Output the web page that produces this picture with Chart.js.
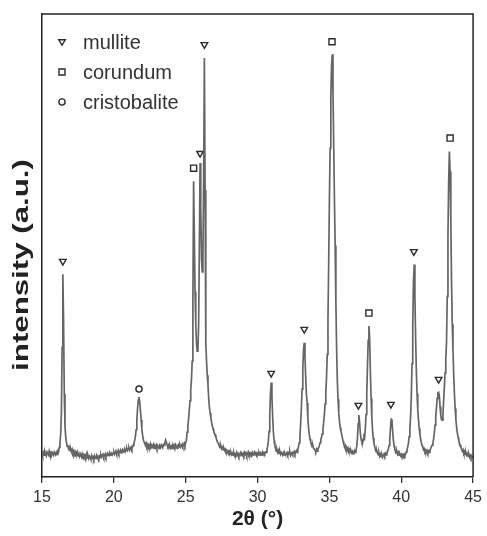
<!DOCTYPE html>
<html>
<head>
<meta charset="utf-8">
<script src="https://cdn.jsdelivr.net/npm/chart.js@4.4.1/dist/chart.umd.min.js"></script>
<style>
  html, body { margin: 0; padding: 0; background: #fff; }
  #wrap { width: 487px; height: 536px; }
</style>
</head>
<body>
<div id="wrap"><canvas id="xrd"></canvas></div>
<script>
// XRD scan, 15.00 - 45.00 deg 2theta, step 0.05 deg
const scanStart = 15;
const scanStep = 0.05;

// intensity (a.u.), one row per degree (x.00 ... x.95)
const intensity = [
  5.6, 4.9, 5.3, 4.7, 5.5, 5.0, 4.6, 5.4, 5.1, 4.8, 5.6, 4.9, 5.2, 4.6, 5.3, 5.0, 4.7, 5.4, 5.1, 4.8, // 15
  5.3, 4.9, 5.6, 5.4, 6.4, 7.4, 9.2, 14, 28, 43.8, 34, 18, 11, 8.6, 7.6, 6.6, 6.9, 6.1, 6.4, 5.7,    // 16
  6.0, 5.4, 5.9, 5.2, 5.6, 4.9, 5.5, 5.0, 5.3, 4.6, 5.2, 4.8, 4.4, 5.1, 4.7, 4.3, 5.0, 4.5, 4.8, 4.2, // 17
  4.7, 4.3, 4.9, 4.1, 4.6, 4.0, 4.5, 4.2, 3.8, 4.6, 4.1, 4.4, 3.9, 4.5, 4.0, 4.3, 4.7, 4.1, 4.4, 4.0, // 18
  4.5, 4.2, 4.8, 4.3, 4.6, 4.9, 4.3, 4.7, 5.0, 4.4, 4.8, 5.1, 4.6, 4.9, 5.3, 4.7, 5.0, 5.2, 4.8, 5.1, // 19
  5.4, 4.9, 5.2, 5.6, 5.0, 5.3, 5.7, 5.1, 5.4, 5.8, 5.2, 5.6, 5.9, 5.4, 5.7, 6.1, 5.5, 5.9, 6.2, 5.7, // 20
  6.0, 6.3, 5.8, 6.2, 6.5, 6.0, 6.4, 6.9, 7.3, 7.9, 8.8, 10.2, 12.3, 14.8, 16.6, 17.3, 16.3, 14.4, 12.3, 10.4, // 21
  9.0, 8.1, 7.6, 7.2, 6.9, 7.3, 6.6, 7.0, 6.4, 6.9, 6.5, 7.1, 6.3, 6.8, 6.6, 7.0, 6.2, 6.7, 6.4, 6.9, // 22
  6.3, 6.8, 6.5, 6.1, 6.7, 6.4, 6.9, 6.6, 6.3, 7.0, 6.8, 7.4, 8.0, 7.6, 7.0, 6.6, 6.9, 6.3, 6.7, 6.2, // 23
  6.6, 6.2, 6.8, 6.4, 6.9, 6.5, 7.0, 6.6, 6.2, 6.8, 7.0, 6.5, 6.9, 6.4, 6.7, 7.1, 6.6, 6.9, 7.3, 6.8, // 24
  7.4, 7.9, 9.7, 11.0, 12.5, 14.5, 16.5, 18.8, 21.0, 25.0, 38, 63.9, 52, 40, 33, 29, 27.2, 27.4, 33, 50, // 25
  67.8, 58, 47, 44.3, 48, 65, 90.5, 62, 29, 25, 22, 20, 17, 15, 13.8, 12.8, 11.8, 11.0, 10.4, 9.9,  // 26
  9.5, 9.1, 8.6, 8.1, 7.7, 7.4, 7.0, 6.8, 6.4, 6.7, 6.1, 6.4, 5.9, 6.2, 5.7, 6.0, 5.5, 5.8, 5.3, 5.6, // 27
  5.2, 5.5, 4.9, 5.3, 4.8, 5.1, 4.7, 5.2, 4.6, 5.0, 4.8, 5.3, 4.7, 5.0, 4.5, 4.9, 5.2, 4.6, 5.0, 4.7, // 28
  5.1, 4.7, 5.3, 4.9, 5.2, 4.6, 5.0, 5.4, 4.8, 5.1, 4.7, 5.2, 4.9, 5.3, 4.8, 5.0, 5.4, 4.9, 5.2, 4.8, // 29
  5.1, 4.8, 5.3, 4.9, 5.2, 4.7, 5.0, 5.4, 4.9, 5.2, 5.0, 5.4, 5.3, 5.8, 6.6, 7.8, 9.8, 13.5, 18.0, 20.4, // 30
  17.5, 13, 9.8, 7.9, 6.8, 6.2, 5.6, 5.9, 5.3, 5.7, 5.1, 5.5, 4.9, 5.3, 5.0, 4.7, 5.2, 4.8, 5.1, 4.7, // 31
  5.0, 5.3, 4.8, 5.2, 4.9, 5.4, 4.7, 5.1, 5.3, 4.9, 5.2, 5.5, 5.0, 5.4, 5.7, 5.3, 5.9, 6.6, 7.4, 8.8, // 32
  11.5, 15.0, 19, 23.5, 27.5, 29.0, 26, 21.5, 18, 16, 12.8, 10.6, 9.2, 8.2, 7.6, 7.1, 6.6, 6.8, 6.2, 6.0, // 33
  5.8, 5.5, 6.0, 5.6, 6.1, 6.3, 6.8, 7.4, 8.0, 8.6, 9.3, 10.4, 11.8, 13.5, 15.8, 18.2, 21.5, 26.5, 34, 46, // 34
  60, 71, 82, 89, 91.3, 83, 72, 60, 50, 38, 28, 21, 16.8, 13.8, 12.0, 10.7, 9.9, 9.3, 8.5, 7.7,      // 35
  7.1, 6.5, 6.8, 6.1, 6.4, 5.8, 6.2, 5.6, 5.9, 5.3, 5.7, 5.2, 5.5, 5.0, 5.4, 5.7, 5.3, 5.8, 6.6, 8.3, // 36
  11.5, 13.4, 11.8, 9.6, 8.3, 7.6, 7.3, 8.0, 8.8, 8.5, 10.5, 13.5, 18, 24, 29.5, 32.6, 30, 23, 17, 13, // 37
  10.2, 8.4, 7.3, 6.6, 6.0, 5.5, 5.7, 5.1, 4.8, 5.2, 4.5, 4.9, 4.4, 4.8, 4.3, 4.7, 5.0, 4.6, 5.1, 4.8, // 38
  5.2, 5.6, 6.0, 6.8, 8.2, 10.5, 12.5, 12.4, 10.0, 8.0, 6.7, 6.1, 5.6, 5.2, 5.5, 4.9, 5.3, 4.7, 5.0, 4.6, // 39
  4.9, 4.5, 4.8, 4.4, 4.9, 4.6, 5.0, 5.4, 5.9, 6.5, 7.3, 8.7, 10.5, 13.0, 17.5, 24.5, 33, 42, 45.9, 39, // 40
  30, 23, 18, 14.5, 12.3, 10.5, 9.2, 8.1, 7.4, 6.8, 6.4, 5.9, 6.1, 5.5, 5.8, 5.3, 5.7, 5.2, 5.6, 5.3, // 41
  5.8, 6.2, 6.5, 6.9, 7.3, 8.2, 9.5, 11.2, 13.0, 15.0, 17.0, 18.2, 18.3, 17.5, 15.2, 13.3, 12.4, 12.3, 13.5, 16.5, // 42
  19.5, 22.5, 25.5, 29, 39, 52, 64, 70.3, 66, 55, 42, 33, 27.5, 22, 18, 14.8, 12.5, 10.8, 9.6, 8.6, // 43
  7.9, 7.3, 6.9, 6.5, 6.0, 5.6, 5.9, 5.2, 5.5, 4.9, 5.3, 4.7, 5.0, 4.5, 4.9, 4.3, 4.7, 4.2, 4.6, 4.3, // 44
  4.5                                                                                              // 45
];

// phase markers: peak position and label height
const mulliteAngles = [16.45, 26.0, 26.3, 30.95, 33.25, 37.02, 39.28, 40.88, 42.6];
const mulliteMarks = [46.6, 69.9, 93.4, 22.4, 31.9, 15.5, 15.7, 48.7, 21.1];
const corundumAngles = [25.55, 35.18, 37.75, 43.4];
const corundumMarks = [66.7, 94.0, 35.4, 73.2];
const cristobaliteAngles = [21.75];
const cristobaliteMarks = [19.0];

const legendLabels = ['mullite', 'corundum', 'cristobalite'];
const xTicks = [15, 20, 25, 30, 35, 40, 45];

const scan = intensity.map((v, i) => ({ x: +(scanStart + i * scanStep).toFixed(2), y: v }));
const pairs = (xs, ys) => xs.map((x, i) => ({ x: x, y: ys[i] }));

const ink = '#2b2b2b';
const fontFamily = '"Liberation Sans", Arial, Helvetica, sans-serif';

function drawSymbol(ctx, kind, x, y) {
    ctx.beginPath();
    if (kind === 0) {
        ctx.moveTo(x - 3.3, y - 2.2);
        ctx.lineTo(x + 3.3, y - 2.2);
        ctx.lineTo(x, y + 3.2);
        ctx.closePath();
    } else if (kind === 1) {
        ctx.rect(x - 3, y - 3, 6, 6);
    } else {
        ctx.arc(x, y, 3.1, 0, Math.PI * 2);
    }
    ctx.stroke();
}

const framePlugin = {
    id: 'frame',
    afterDraw(chart) {
        const { ctx, chartArea } = chart;
        ctx.save();
        // top and right border
        ctx.strokeStyle = '#222';
        ctx.lineWidth = 1.5;
        ctx.beginPath();
        ctx.moveTo(chartArea.left, chartArea.top);
        ctx.lineTo(chartArea.right, chartArea.top);
        ctx.lineTo(chartArea.right, chartArea.bottom);
        ctx.stroke();

        // legend inside the plot
        ctx.strokeStyle = ink;
        ctx.lineWidth = 1.4;
        ctx.fillStyle = '#333';
        ctx.font = '20px ' + fontFamily;
        ctx.textBaseline = 'middle';
        legendLabels.forEach((label, i) => {
            const y = chartArea.top + 28 + i * 30;
            drawSymbol(ctx, i, chartArea.left + 20, y);
            ctx.fillText(label, chartArea.left + 41, y + 1);
        });

        // y axis title
        ctx.translate(27.5, 265);
        ctx.rotate(-Math.PI / 2);
        ctx.scale(1.42, 1);
        ctx.font = 'bold 22px ' + fontFamily;
        ctx.textAlign = 'center';
        ctx.textBaseline = 'alphabetic';
        ctx.fillStyle = '#222';
        ctx.fillText('intensity (a.u.)', 0, 0);
        ctx.restore();
    }
};

new Chart(document.getElementById('xrd'), {
    type: 'line',
    data: {
        datasets: [
            {
                label: 'scan',
                data: scan,
                borderColor: '#656565',
                borderWidth: 1.7,
                pointRadius: 0,
                tension: 0
            },
            {
                type: 'scatter',
                label: legendLabels[0],
                data: pairs(mulliteAngles, mulliteMarks),
                pointStyle: 'triangle',
                rotation: 180,
                pointRadius: 3.8,
                borderColor: ink,
                borderWidth: 1.4,
                backgroundColor: 'rgba(0,0,0,0)'
            },
            {
                type: 'scatter',
                label: legendLabels[1],
                data: pairs(corundumAngles, corundumMarks),
                pointStyle: 'rect',
                pointRadius: 4.3,
                borderColor: ink,
                borderWidth: 1.4,
                backgroundColor: 'rgba(0,0,0,0)'
            },
            {
                type: 'scatter',
                label: legendLabels[2],
                data: pairs(cristobaliteAngles, cristobaliteMarks),
                pointStyle: 'circle',
                pointRadius: 3.1,
                borderColor: ink,
                borderWidth: 1.4,
                backgroundColor: 'rgba(0,0,0,0)'
            }
        ]
    },
    options: {
        responsive: true,
        maintainAspectRatio: false,
        animation: false,
        layout: { padding: { top: 14, right: 10, left: 0, bottom: 0 } },
        plugins: {
            legend: { display: false },
            tooltip: { enabled: false }
        },
        scales: {
            x: {
                type: 'linear',
                min: 15,
                max: 45,
                afterFit: (scale) => { scale.height = 59; },
                afterBuildTicks: (scale) => { scale.ticks = xTicks.map(v => ({ value: v })); },
                ticks: {
                    color: '#333',
                    padding: 5,
                    font: { size: 16, family: fontFamily }
                },
                grid: {
                    display: true,
                    drawOnChartArea: false,
                    drawTicks: true,
                    tickLength: 6,
                    color: '#333',
                    lineWidth: 1.3
                },
                border: { display: true, color: '#222', width: 1.5 },
                title: {
                    display: true,
                    text: '2θ (°)',
                    color: '#222',
                    padding: { top: 0, bottom: 4 },
                    font: { size: 21, weight: 'bold', family: fontFamily }
                }
            },
            y: {
                min: 0,
                max: 100,
                afterFit: (scale) => { scale.width = 42; },
                ticks: { display: false },
                grid: { display: false },
                border: { display: true, color: '#222', width: 1.5 }
            }
        }
    },
    plugins: [framePlugin]
});
</script>
</body>
</html>
